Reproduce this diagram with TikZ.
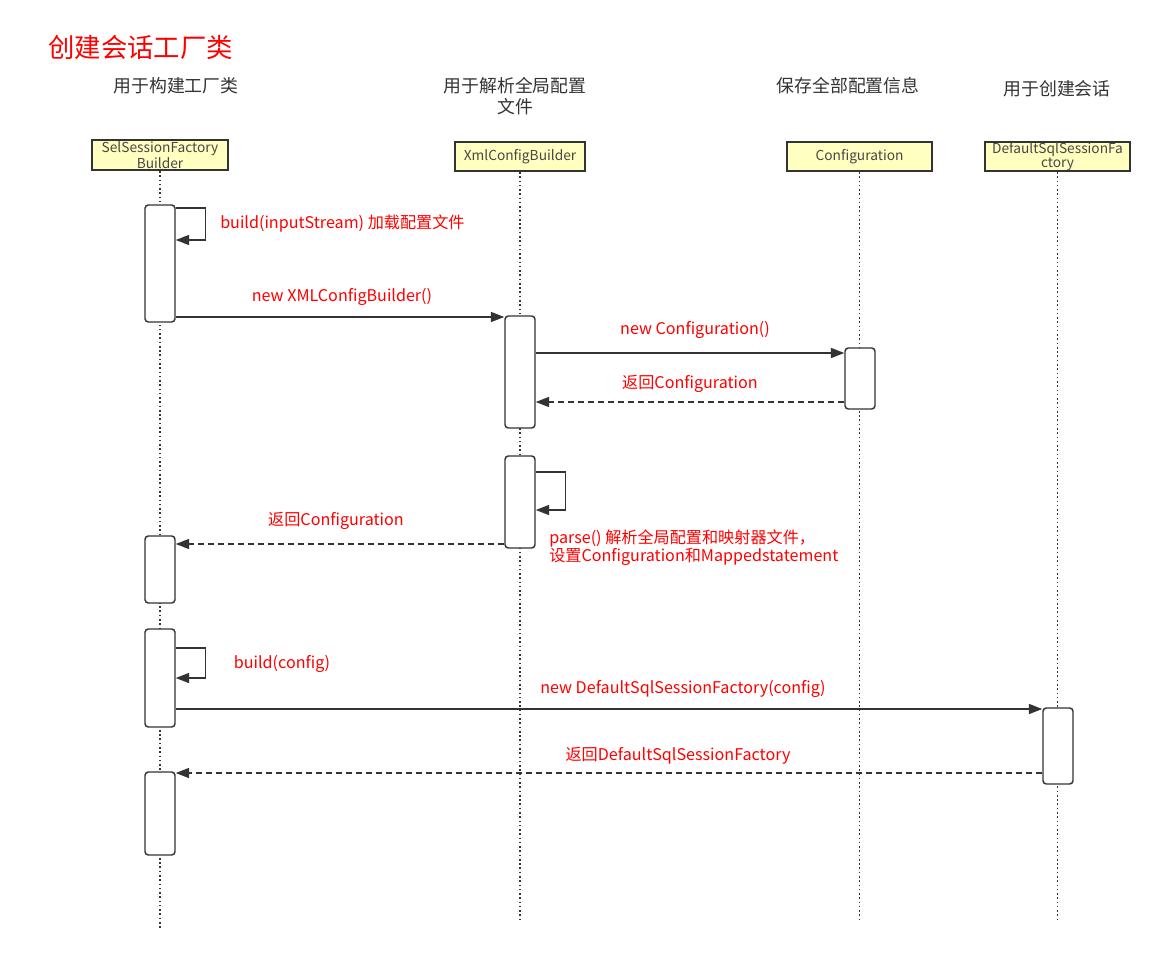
\documentclass[tikz,border=0pt]{standalone}
\usepackage{fontspec}
\setmainfont{Noto Sans CJK SC}
\usetikzlibrary{arrows.meta,calc}
\definecolor{hdrfill}{HTML}{FFFFC0}
\definecolor{ink}{HTML}{333333}
\definecolor{lbl}{HTML}{FF0000}
\tikzset{
  hdr/.style={draw=ink,line width=1.5pt,fill=hdrfill,inner sep=0pt,align=center,font=\fontsize{10.3}{10.5}\selectfont,text=ink!90},
  act/.style={draw=ink,line width=1.1pt,fill=white,rounded corners=2.5pt,minimum width=22.5pt,inner sep=0pt},
  life/.style={draw=ink,line width=1.2pt,dotted},
  msg/.style={draw=ink,line width=1.1pt,-{Triangle[length=10pt,width=7.5pt]}},
  ret/.style={msg,dashed,dash pattern=on 4.5pt off 3pt},
  red/.style={text=lbl,font=\fontsize{12.1}{14}\selectfont,inner sep=0pt},
  note/.style={text=ink,font=\fontsize{13.4}{15.5}\selectfont,inner sep=0pt,align=center},
}
\begin{document}
\begin{tikzpicture}[x=0.75pt,y=-0.75pt]
\useasboundingbox (0,0) rectangle (1163,953);
% title
\node[text=lbl,font=\fontsize{19.8}{22}\selectfont,inner sep=0pt,anchor=west] (title) at (48,47) {创建会话工厂类};
% role notes
\node[note] (n1) at (176,86) {用于构建工厂类};
\node[note] (n2) at (515,96) {用于解析全局配置\\文件};
\node[note] (n3) at (848,86) {保存全部配置信息};
\node[note] (n4) at (1057,89) {用于创建会话};
% headers
\node[hdr,minimum width=102pt,minimum height=22.5pt] (h1) at (160,155) {SelSessionFactory\\Builder};
\node[hdr,minimum width=97.5pt,minimum height=21.75pt] (h2) at (520,156.5) {XmlConfigBuilder};
\node[hdr,minimum width=108.75pt,minimum height=21.75pt] (h3) at (859.5,156.5) {Configuration};
\node[hdr,minimum width=108.75pt,minimum height=21.75pt] (h4) at (1057.5,156.5) {DefaultSqlSessionFa\\ctory};
% lifeline ends
\coordinate (e1) at (160,928);
\coordinate (e2) at (520,922);
\coordinate (e3) at (859.5,922);
\coordinate (e4) at (1057.5,922);
\draw[life] (h1.south) -- (e1);
\draw[life] (h2.south) -- (e2);
\draw[life] (h3.south) -- (e3);
\draw[life] (h4.south) -- (e4);
% activations
\node[act,minimum height=87.75pt] (a1) at (160,263.5) {};
\node[act,minimum height=50.25pt] (a2) at (160,569.5) {};
\node[act,minimum height=73.5pt] (a3) at (160,678) {};
\node[act,minimum height=62.25pt] (a4) at (160,813.5) {};
\node[act,minimum height=84pt] (b1) at (520,372) {};
\node[act,minimum height=69pt] (b2) at (520,502) {};
\node[act,minimum height=45.75pt] (c1) at (860,378.5) {};
\node[act,minimum height=57pt] (d1) at (1058,746) {};
% y levels
\coordinate (y1a) at (0,208); \coordinate (y1b) at (0,240);
\coordinate (y2) at (0,317);
\coordinate (y3) at (0,353);
\coordinate (y4) at (0,402);
\coordinate (y5a) at (0,472); \coordinate (y5b) at (0,510);
\coordinate (y6) at (0,544);
\coordinate (y7a) at (0,648); \coordinate (y7b) at (0,678);
\coordinate (y8) at (0,709);
\coordinate (y9) at (0,773);
% self loop 1
\draw[msg] (a1.east |- y1a) -- ++(30,0) |- (a1.east |- y1b);
\node[red,anchor=west] (l1) at (220,224) {build(inputStream) 加载配置文件};
% new XMLConfigBuilder
\draw[msg] (a1.east |- y2) -- (b1.west |- y2);
\node[red] (l2) at (342,297) {new XMLConfigBuilder()};
% new Configuration
\draw[msg] (b1.east |- y3) -- (c1.west |- y3);
\node[red] (l3) at (695,330) {new Configuration()};
% return Configuration
\draw[ret] (c1.west |- y4) -- (b1.east |- y4);
\node[red] (l4) at (690,384) {返回Configuration};
% self loop 2
\draw[msg] (b2.east |- y5a) -- ++(30,0) |- (b2.east |- y5b);
\node[red,anchor=north west,align=left] (l5) at (549,529) {parse() 解析全局配置和映射器文件，\\设置Configuration和Mappedstatement};
% return Configuration to builder
\draw[ret] (b2.west |- y6) -- (a2.east |- y6);
\node[red] (l6) at (336,521) {返回Configuration};
% self loop 3
\draw[msg] (a3.east |- y7a) -- ++(30,0) |- (a3.east |- y7b);
\node[red] (l7) at (282,664) {build(config)};
% new DefaultSqlSessionFactory
\draw[msg] (a3.east |- y8) -- (d1.west |- y8);
\node[red] (l8) at (683,689) {new DefaultSqlSessionFactory(config)};
% return DefaultSqlSessionFactory
\draw[ret] (d1.west |- y9) -- (a4.east |- y9);
\node[red] (l9) at (678,756) {返回DefaultSqlSessionFactory};
\end{tikzpicture}
\end{document}
